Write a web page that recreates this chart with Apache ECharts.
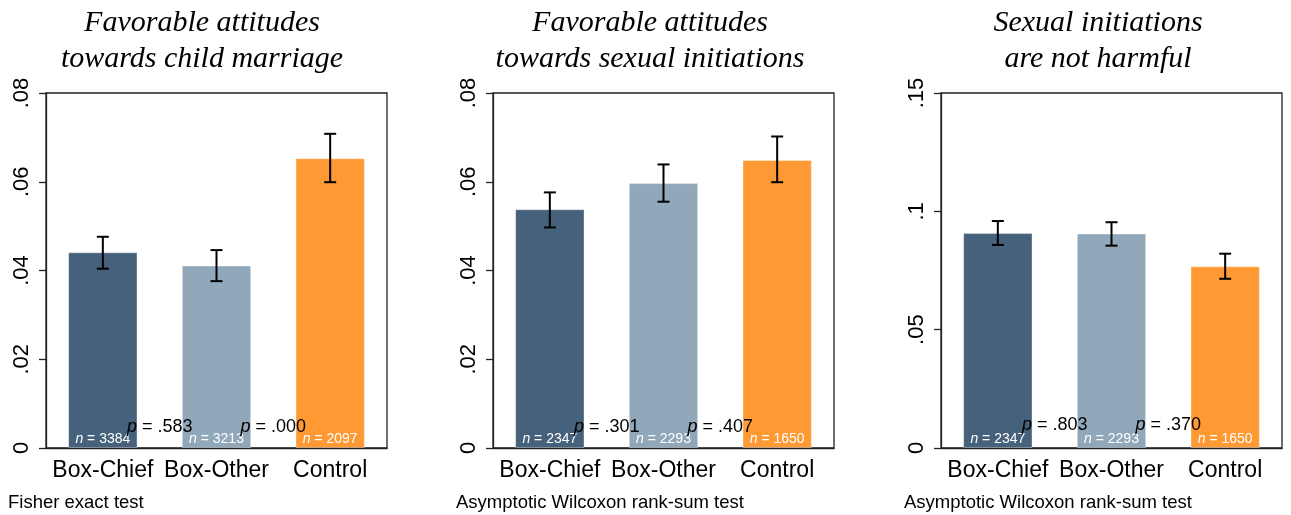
<!DOCTYPE html>
<html>
<head>
<meta charset="utf-8">
<script src="https://cdn.jsdelivr.net/npm/echarts@6/dist/echarts.min.js"></script>
<style>
  html, body { margin: 0; padding: 0; background: #fff; }
  #chart { width: 1291px; height: 515px; }
</style>
</head>
<body>
<div id="chart"></div>
<script>
// Groups shown on every panel
const categories = ['Box-Chief', 'Box-Other', 'Control'];
const barColors = ['#46617b', '#91a7ba', '#ff9933'];

// Panel titles
const panelTitles = [
  'Favorable attitudes\ntowards child marriage',
  'Favorable attitudes\ntowards sexual initiations',
  'Sexual initiations\nare not harmful'
];

// Share of respondents (bar heights)
const meansChildMarriage = [0.0441, 0.0411, 0.0653];
const meansSexInitFavor = [0.0538, 0.0597, 0.0649];
const meansSexInitHarmless = [0.0908, 0.0906, 0.0768];

// Confidence intervals: [low, high] per group
const ciChildMarriage = [[0.0404, 0.0476], [0.0376, 0.0446], [0.0599, 0.0708]];
const ciSexInitFavor = [[0.0497, 0.0576], [0.0555, 0.0639], [0.0599, 0.0702]];
const ciSexInitHarmless = [[0.0858, 0.0959], [0.0855, 0.0954], [0.0715, 0.0821]];

// Sample sizes per group
const nChildMarriage = [3384, 3213, 2097];
const nSexInitFavor = [2347, 2293, 1650];
const nSexInitHarmless = [2347, 2293, 1650];

// Test p-values (Box-Chief vs Box-Other, Box-Other vs Control)
const pChildMarriage = ['.583', '.000'];
const pSexInitFavor = ['.301', '.407'];
const pSexInitHarmless = ['.803', '.370'];
const pLabelHeight = [0.005, 0.005, 0.01];

// Y axis settings and tick labels
const yMax = [0.08, 0.08, 0.15];
const yInterval = [0.02, 0.02, 0.05];
const yTickLabels = [
  ['0', '.02', '.04', '.06', '.08'],
  ['0', '.02', '.04', '.06', '.08'],
  ['0', '.05', '.1', '.15']
];

const testNotes = ['Fisher exact test', 'Asymptotic Wilcoxon rank-sum test', 'Asymptotic Wilcoxon rank-sum test'];

const panels = [
  { means: meansChildMarriage, ci: ciChildMarriage, n: nChildMarriage, p: pChildMarriage },
  { means: meansSexInitFavor, ci: ciSexInitFavor, n: nSexInitFavor, p: pSexInitFavor },
  { means: meansSexInitHarmless, ci: ciSexInitHarmless, n: nSexInitHarmless, p: pSexInitHarmless }
];

// Layout
const gridLefts = [46, 493, 941];
const gridWidth = 341;
const gridTop = 93;
const gridHeight = 355;
const titleCenters = [197, 645, 1093];
const noteLefts = [8, 456, 904];

const sans = 'Liberation Sans, Arial, Helvetica, sans-serif';
const serif = 'Liberation Serif, Times New Roman, serif';

const chart = echarts.init(document.getElementById('chart'), null, { renderer: 'canvas' });

const grids = [], xAxes = [], yAxes = [], series = [], titles = [];

panels.forEach((pan, k) => {
  grids.push({
    left: gridLefts[k], top: gridTop, width: gridWidth, height: gridHeight,
    show: true, borderColor: '#222', borderWidth: 1.3, backgroundColor: '#fff'
  });
  xAxes.push({
    gridIndex: k, type: 'category', data: categories,
    axisLine: { lineStyle: { color: '#222', width: 1.3 } },
    axisTick: { alignWithLabel: true, length: 7, lineStyle: { color: '#222', width: 1.3 } },
    axisLabel: { color: '#000', fontFamily: sans, fontSize: 23, margin: 11, interval: 0, hideOverlap: false },
    splitLine: { show: false }
  });
  yAxes.push({
    gridIndex: k, type: 'value', min: 0, max: yMax[k], interval: yInterval[k],
    axisLine: { show: true, lineStyle: { color: '#222', width: 1.3 } },
    axisTick: { show: true, length: 7, lineStyle: { color: '#222', width: 1.3 } },
    axisLabel: {
      color: '#000', fontFamily: sans, fontSize: 22, rotate: 90, margin: 13,
      formatter: (v, i) => yTickLabels[k][i]
    },
    splitLine: { show: false }
  });

  // Bars with sample-size labels
  series.push({
    type: 'bar', xAxisIndex: k, yAxisIndex: k, barWidth: '61%',
    data: pan.means.map((v, i) => ({
      value: v,
      itemStyle: { color: barColors[i], borderColor: 'rgba(255,255,255,0.35)', borderWidth: 1 }
    })),
    label: {
      show: true, position: 'insideBottom', distance: 2,
      formatter: (prm) => '{i|n} = ' + pan.n[prm.dataIndex],
      color: '#fff', fontFamily: sans, fontSize: 14,
      rich: { i: { fontStyle: 'italic', color: '#fff', fontFamily: sans, fontSize: 14 } }
    },
    silent: true, animation: false
  });

  // Confidence interval whiskers
  series.push({
    type: 'custom', xAxisIndex: k, yAxisIndex: k,
    data: pan.ci.map((c, i) => [i, c[0], c[1]]),
    renderItem: (params, api) => {
      const lo = api.coord([api.value(0), api.value(1)]);
      const hi = api.coord([api.value(0), api.value(2)]);
      const cap = 6;
      const style = { stroke: '#000', lineWidth: 2 };
      return {
        type: 'group',
        children: [
          { type: 'line', shape: { x1: lo[0], y1: lo[1], x2: hi[0], y2: hi[1] }, style },
          { type: 'line', shape: { x1: hi[0] - cap, y1: hi[1], x2: hi[0] + cap, y2: hi[1] }, style },
          { type: 'line', shape: { x1: lo[0] - cap, y1: lo[1], x2: lo[0] + cap, y2: lo[1] }, style }
        ]
      };
    },
    z: 5, silent: true, animation: false
  });

  // p-values placed midway between neighbouring groups
  series.push({
    type: 'custom', xAxisIndex: k, yAxisIndex: k,
    data: pan.p.map((p, i) => [i, pLabelHeight[k]]),
    renderItem: (params, api) => {
      const i = api.value(0);
      const a = api.coord([i, api.value(1)]);
      const b = api.coord([i + 1, api.value(1)]);
      return {
        type: 'text',
        style: {
          x: (a[0] + b[0]) / 2, y: a[1] + 1,
          text: '{i|p} = ' + pan.p[params.dataIndex],
          align: 'center', verticalAlign: 'middle',
          fill: '#000', font: '18px ' + sans,
          rich: { i: { fontStyle: 'italic', fontSize: 18, fontFamily: sans, color: '#000' } }
        }
      };
    },
    z: 6, silent: true, animation: false
  });

  titles.push({
    text: panelTitles[k], left: titleCenters[k], top: 0, textAlign: 'center',
    textStyle: {
      fontFamily: serif, fontStyle: 'italic', fontWeight: 'normal',
      fontSize: 30, lineHeight: 36, color: '#000'
    }
  });
  titles.push({
    text: testNotes[k], left: noteLefts[k], top: 493, padding: 0,
    textStyle: { fontFamily: sans, fontWeight: 'normal', fontSize: 18.5, color: '#000' }
  });
});

chart.setOption({
  backgroundColor: '#fff',
  animation: false,
  title: titles,
  grid: grids,
  xAxis: xAxes,
  yAxis: yAxes,
  series: series
});
</script>
</body>
</html>
